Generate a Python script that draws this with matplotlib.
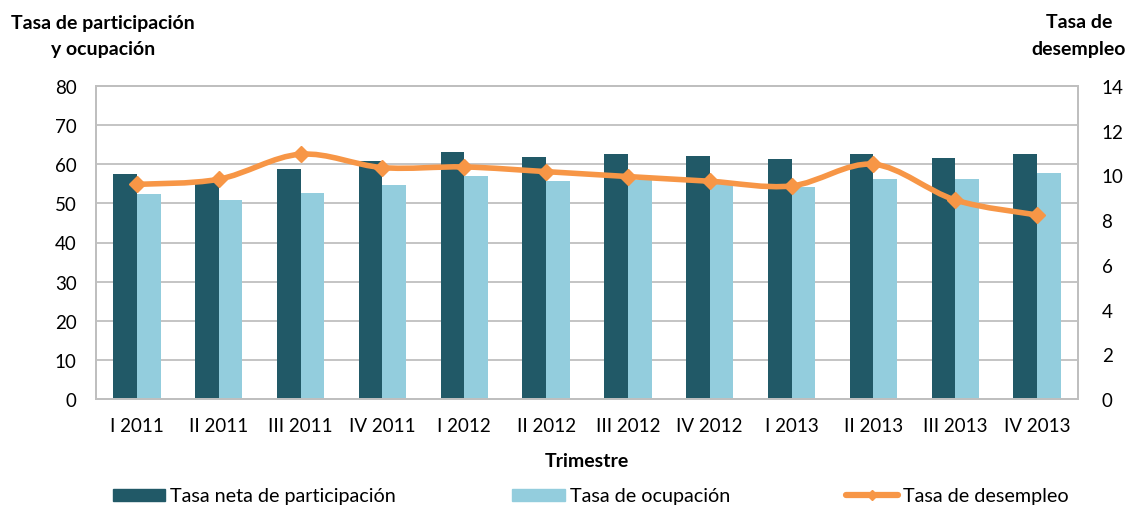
import numpy as np
import matplotlib.pyplot as plt
from matplotlib.path import Path
from matplotlib.patches import PathPatch, Patch
from matplotlib.lines import Line2D

plt.rcParams['font.family'] = ['Lato', 'DejaVu Sans']

trimestres = ["I 2011", "II 2011", "III 2011", "IV 2011", "I 2012", "II 2012",
              "III 2012", "IV 2012", "I 2013", "II 2013", "III 2013", "IV 2013"]
participacion = [57.6, 55.8, 58.7, 60.8, 63.2, 61.8, 62.5, 62.0, 61.4, 62.6, 61.7, 62.7]
ocupacion = [52.3, 50.8, 52.6, 54.6, 56.9, 55.7, 56.0, 55.2, 54.2, 56.3, 56.3, 57.7]
desempleo = [9.6, 9.83, 10.95, 10.35, 10.38, 10.17, 9.95, 9.74, 9.53, 10.5, 8.9, 8.23]

c_dark = "#215967"
c_light = "#93CDDD"
c_orange = "#F79646"
c_grid = "#BFBFBF"

fig = plt.figure(figsize=(11.3, 5.06), dpi=100)
ax = fig.add_axes([96 / 1130, 1 - 400 / 506, (1078 - 96) / 1130, (400 - 87) / 506])
ax2 = ax.twinx()

x = np.arange(len(trimestres))
w = 0.29
ax.bar(x - w / 2, participacion, w, color=c_dark, zorder=2)
ax.bar(x + w / 2, ocupacion, w, color=c_light, zorder=2)

ax.set_xlim(-0.5, len(trimestres) - 0.5)
ax.set_ylim(0, 80)
ax.set_yticks(range(0, 81, 10))
ax.grid(axis='y', color=c_grid, lw=1.3, zorder=0)
ax.set_axisbelow(True)
ax.set_xticks(x)
ax.set_xticklabels(trimestres)
ax.tick_params(axis='both', length=0, labelsize=13.5, colors="#000000")
ax.tick_params(axis='x', pad=13)
ax.tick_params(axis='y', pad=14)

ax2.set_ylim(0, 14)
ax2.set_yticks(range(0, 15, 2))
ax2.tick_params(axis='y', length=0, labelsize=13.5, pad=17)

for a in (ax, ax2):
    for s in a.spines.values():
        s.set_color(c_grid)
        s.set_linewidth(1.3)

# smooth line (Excel-style) via cubic Bezier segments through data points
pts = np.column_stack([x, desempleo])
verts = [tuple(pts[0])]
codes = [Path.MOVETO]
t = 1 / 6
for i in range(len(pts) - 1):
    p0 = pts[max(i - 1, 0)]
    p1 = pts[i]
    p2 = pts[i + 1]
    p3 = pts[min(i + 2, len(pts) - 1)]
    c1 = p1 + (p2 - p0) * t
    c2 = p2 - (p3 - p1) * t
    verts += [tuple(c1), tuple(c2), tuple(p2)]
    codes += [Path.CURVE4] * 3
ax2.add_patch(PathPatch(Path(verts, codes), fill=False, edgecolor=c_orange,
                        lw=4, capstyle='round', zorder=3))
ax2.plot(x, desempleo, ls='none', marker='D', ms=8.5, color=c_orange, zorder=4)

bold = dict(fontsize=14, fontweight='bold', ha='center', va='center')
fig.text(103 / 1130, 1 - 23 / 506, "Tasa de participación", **bold)
fig.text(103 / 1130, 1 - 50 / 506, "y ocupación", **bold)
fig.text(1079 / 1130, 1 - 23 / 506, "Tasa de", **bold)
fig.text(1079 / 1130, 1 - 50 / 506, "desempleo", **bold)
fig.text(587 / 1130, 1 - 462 / 506, "Trimestre", **bold)

handles = [Patch(color=c_dark), Patch(color=c_light),
           Line2D([], [], color=c_orange, lw=4.5, marker='D', ms=5, solid_capstyle='round')]
labels = ["Tasa neta de participación", "Tasa de ocupación", "Tasa de desempleo"]
fig.legend(handles, labels, loc='center left', bbox_to_anchor=(113 / 1130, 1 - 497 / 506),
           ncol=3, frameon=False, handlelength=2.65, handleheight=0.56,
           handletextpad=0.25, columnspacing=5.9, borderpad=0, borderaxespad=0,
           prop={'family': ['Lato', 'DejaVu Sans'], 'size': 14.2})

fig.savefig("out.png", dpi=100)
